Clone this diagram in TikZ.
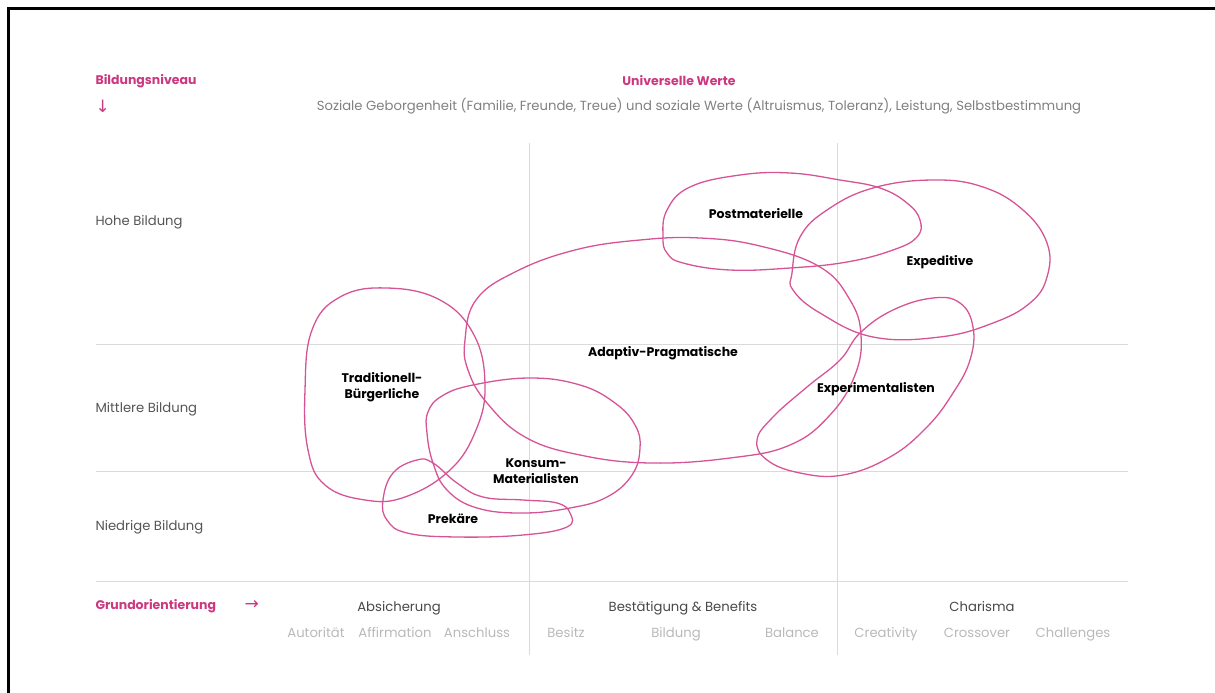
\documentclass[tikz,border=0pt]{standalone}
\usepackage{fontspec}
\setmainfont{Poppins}
\newfontfamily\arrowfont{DejaVu Sans}
\usetikzlibrary{positioning}

\definecolor{sinuspink}{RGB}{204,56,128}
\definecolor{bloblinie}{RGB}{214,84,150}
\definecolor{rastergrau}{RGB}{218,218,218}
\definecolor{textgrau}{RGB}{85,85,85}
\definecolor{hellgrau}{RGB}{185,185,185}

\tikzset{
  raster/.style={draw=rastergrau, line width=1pt},
  milieu/.style={draw=bloblinie, line width=1.3pt},
  milieutext/.style={font=\fontsize{12.5}{16}\selectfont\bfseries, align=center, text=black},
  achse/.style={font=\fontsize{12.5}{15}\selectfont\bfseries, text=sinuspink, anchor=west},
  pfeil/.style={anchor=west, text=sinuspink, font=\arrowfont\fontsize{17}{17}\selectfont},
  zeile/.style={font=\fontsize{13.2}{15}\selectfont, text=textgrau, anchor=west},
  kopf/.style={font=\fontsize{13.2}{15}\selectfont, text=textgrau!85!black, anchor=base},
  unter/.style={font=\fontsize{13.2}{15}\selectfont, text=hellgrau, anchor=base}
}

\begin{document}
\begin{tikzpicture}[x=1pt, y=-1pt]
    \useasboundingbox (0,0) rectangle (1215,693);
    \draw [line width=3pt] (8,693) -- (8,9) -- (1216,9);

    % grid
    \draw [raster] (529,143) -- (529,655);
    \draw [raster] (837,143) -- (837,655);
    \draw [raster] (96,344) -- (1128,344);
    \draw [raster] (96,471) -- (1128,471);
    \draw [raster] (96,581) -- (1128,581);

    % header
    \node [achse] (niveau) at (92,81) {Bildungsniveau};
    \node [pfeil] (pfeilab) at (92,106) {↓};
    \node [font=\fontsize{12.5}{15}\selectfont\bfseries, text=sinuspink] (werte) at (679,81) {Universelle Werte};
    \node [font=\fontsize{13.2}{15}\selectfont, text=gray] (werteinfo) at (699,106)
        {Soziale Geborgenheit (Familie, Freunde, Treue) und soziale Werte (Altruismus, Toleranz), Leistung, Selbstbestimmung};

    % rows
    \node [zeile] (hoch) at (92,222) {Hohe Bildung};
    \node [zeile] (mittel) at (92,409) {Mittlere Bildung};
    \node [zeile] (niedrig) at (92,527) {Niedrige Bildung};

    % bottom axis
    \node [achse] (grund) at (92,606) {Grundorientierung};
    \node [pfeil] (pfeilre) at (241,605) {→};
    \node [kopf] (absich) at (399,611) {Absicherung};
    \node [kopf] (bestaet) at (683,611) {Bestätigung \& Benefits};
    \node [kopf] (charis) at (982,611) {Charisma};
    \foreach \wort/\xpos in {Autorität/316, Affirmation/395, Anschluss/477, Besitz/566,
        Bildung/676, Balance/792, Creativity/886, Crossover/977, Challenges/1073}
        \node [unter] at (\xpos,637) {\wort};

    % milieus
    \draw [milieu] plot [smooth cycle, tension=0.7] coordinates {(387,288) (440,300) (474,335)
        (485,385) (476,430) (450,470) (405,497) (365,500) (325,485) (308,450) (305,390)
        (312,330) (340,297)};
    \draw [milieu] plot [smooth cycle, tension=0.7] coordinates {(465,340) (476,300) (515,272)
        (575,250) (640,240) (700,238) (760,246) (820,267) (850,300) (861,335) (855,375)
        (830,415) (790,445) (730,458) (650,463) (580,455) (525,437) (487,403) (468,370)};
    \draw [milieu] plot [smooth cycle, tension=0.7] coordinates {(640,448) (632,475)
        (607,497) (570,508) (523,513) (477,508) (447,490) (433,463) (427,433) (428,412)
        (442,396) (473,385) (530,378) (580,385) (615,403) (635,425)};
    \draw [milieu] plot [smooth cycle, tension=0.7] coordinates {(417,460) (433,463) (457,483)
        (483,497) (523,500) (557,503) (570,513) (567,527) (523,535) (457,537) (407,533)
        (387,520) (383,500) (393,473)};
    \draw [milieu] plot [smooth cycle, tension=0.7] coordinates {(663,237) (667,210) (690,187)
        (740,175) (790,173) (840,180) (880,188) (907,203) (920,220) (917,237) (893,250)
        (847,262) (790,268) (730,270) (683,263) (667,253)};
    \draw [milieu] plot [smooth cycle, tension=0.7] coordinates {(792,273) (800,237) (827,210)
        (873,188) (933,180) (983,187) (1023,210) (1047,243) (1047,277) (1030,303) (993,323)
        (940,337) (873,337) (820,313) (793,290)};
    \draw [milieu] plot [smooth cycle, tension=0.7] coordinates {(860,333) (893,310) (933,298)
        (960,303) (973,327) (970,360) (953,393) (927,427) (890,457) (843,475) (800,473)
        (767,460) (757,440) (773,417) (807,387) (840,360)};

    \node [milieutext] (trad) at (382,387) {Traditionell-\\Bürgerliche};
    \node [milieutext] (adapt) at (663,353) {Adaptiv-Pragmatische};
    \node [milieutext] (konsum) at (536,471) {Konsum-\\Materialisten};
    \node [milieutext] (prek) at (453,519) {Prekäre};
    \node [milieutext] (postmat) at (756,214) {Postmaterielle};
    \node [milieutext] (exped) at (940,262) {Expeditive};
    \node [milieutext] (experi) at (876,389) {Experimentalisten};
\end{tikzpicture}
\end{document}
